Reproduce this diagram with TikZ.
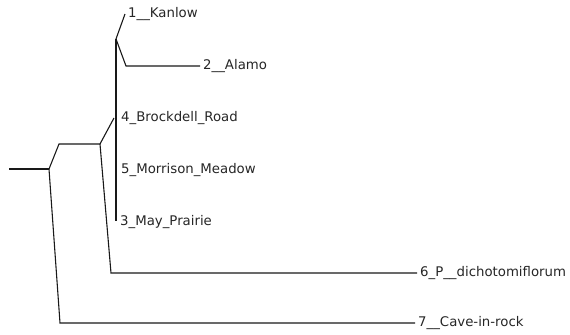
\documentclass[tikz,border=0pt]{standalone}
\usepackage{fontspec}
\setmainfont{DejaVu Sans}
\begin{document}
\begin{tikzpicture}[x=1bp,y=-1bp,
  branch/.style={draw=black!90,line width=1.1bp},
  tip/.style={anchor=west,inner xsep=3bp,inner ysep=0pt,text height=0.73em,text depth=0pt,
    font=\fontsize{13.3bp}{15bp}\selectfont,text=black!85}]
\useasboundingbox (0,0) rectangle (570,334);
% internal nodes
\coordinate (r0) at (9,169);
\coordinate (n1) at (49,169);
\coordinate (n1a) at (59,144);
\coordinate (n2) at (100,144);
\coordinate (n3) at (114,118);
\coordinate (vtop) at (116,39);
\coordinate (vbot) at (116,221);
\coordinate (t1) at (125,14);
\coordinate (n4b) at (126,66);
\coordinate (b6) at (111,273);
\coordinate (b7) at (60,323);
% tips
\node[tip] (l1) at (125,14) {1\_\_Kanlow};
\node[tip] (l2) at (200,66) {2\_\_Alamo};
\node[tip] (l4) at (118,118) {4\_Brockdell\_Road};
\node[tip] (l5) at (118,170) {5\_Morrison\_Meadow};
\node[tip] (l3) at (117,222) {3\_May\_Prairie};
\node[tip] (l6) at (417,273) {6\_P\_\_dichotomiflorum};
\node[tip] (l7) at (415,323) {7\_\_Cave-in-rock};
% branches
\draw[branch] (r0) -- (n1);
\draw[branch] (n1) -- (n1a) -- (n2);
\draw[branch] (n1) -- (b7) -- (l7.west);
\draw[branch] (n2) -- (n3);
\draw[branch] (n2) -- (b6) -- (l6.west);
\draw[branch] (vtop) -- (vbot);
\draw[branch] (vtop) -- (t1);
\draw[branch] (vtop) -- (n4b) -- (l2.west);
\end{tikzpicture}
\end{document}
